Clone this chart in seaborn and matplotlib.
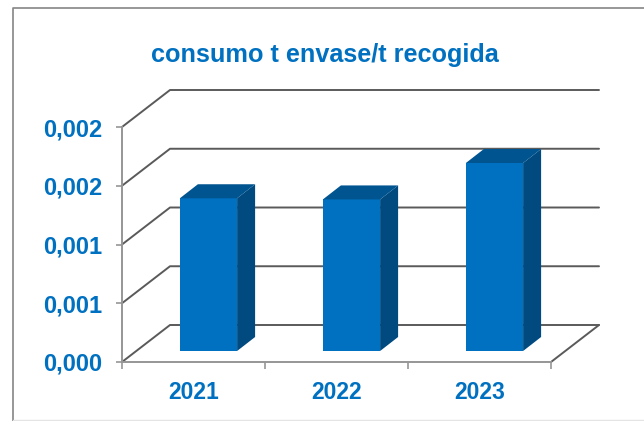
import matplotlib
matplotlib.use('Agg')
import matplotlib.pyplot as plt
import matplotlib.transforms as mtrans
from matplotlib.patches import Polygon
import pandas as pd
import seaborn as sns

# valores
years = ['2021', '2022', '2023']
consumo = [0.0013, 0.00129, 0.0016]
y_ticks = [0.0, 0.0005, 0.001, 0.0015, 0.002]
y_labels = ['0,000', '0,001', '0,001', '0,002', '0,002']

BLUE = '#0070C0'
W, H = 644, 421
# plano frontal del grafico 3D, en pixeles
LEFT, RIGHT, TOP, BOTTOM = 122, 551, 127, 362
WALL_DX, WALL_DY = 48, 37
BAR_DX, BAR_DY = 18, 14
BASE_DX, BASE_DY = 15, 11

sns.set_theme(style='white')
plt.rcParams['font.family'] = ['Liberation Sans', 'DejaVu Sans']

fig = plt.figure(figsize=(W / 100, H / 100), dpi=100)
ax = fig.add_axes([LEFT / W, 1 - BOTTOM / H, (RIGHT - LEFT) / W, (BOTTOM - TOP) / H])
ax.patch.set_alpha(0)

df = pd.DataFrame({'year': years, 'consumo': consumo})
sns.barplot(data=df, x='year', y='consumo', color=BLUE, saturation=1, width=0.4, linewidth=0, ax=ax, zorder=5)
ax.set_xlim(-0.5, 2.5)
ax.set_ylim(0, 0.002)

# pixeles a unidades de datos
px_x = 3 / (RIGHT - LEFT)
px_y = 0.002 / (BOTTOM - TOP)

# pared del fondo y suelo
for t in y_ticks:
    xs = [-0.5, -0.5 + WALL_DX * px_x, 2.5 + WALL_DX * px_x]
    ys = [t, t + WALL_DY * px_y, t + WALL_DY * px_y]
    ax.plot(xs, ys, color='#5a5a5a', lw=1.4, clip_on=False, zorder=2)
ax.plot([2.5, 2.5 + WALL_DX * px_x], [0, WALL_DY * px_y], color='#5a5a5a', lw=1.4, clip_on=False, zorder=2)

# caras 3D de cada barra
shift = mtrans.Affine2D().translate(BASE_DX, BASE_DY)
for bar in ax.patches[:len(years)]:
    x0, w, h = bar.get_x(), bar.get_width(), bar.get_height()
    x1 = x0 + w
    dx, dy = BAR_DX * px_x, BAR_DY * px_y
    bar.set_transform(ax.transData + shift)
    bar.set_clip_on(False)
    bar.set_edgecolor('none')
    side = Polygon([(x1, 0), (x1 + dx, dy), (x1 + dx, h + dy), (x1, h)], closed=True, fc='#004A80', ec='none',
                   transform=ax.transData + shift, clip_on=False, zorder=5)
    top = Polygon([(x0, h), (x0 + dx, h + dy), (x1 + dx, h + dy), (x1, h)], closed=True, fc='#005490', ec='none',
                  transform=ax.transData + shift, clip_on=False, zorder=5)
    ax.add_patch(side)
    ax.add_patch(top)

ax.set_xlabel('')
ax.set_ylabel('')
ax.set_yticks(y_ticks)
ax.set_yticklabels(y_labels)
ax.set_xticks([-0.5, 0.5, 1.5, 2.5], minor=False)
ax.set_xticklabels([])
ax.set_xticks([0, 1, 2], minor=True)
ax.set_xticklabels(years, minor=True)
ax.tick_params(axis='x', which='major', length=5, width=1.2, color='#969696', bottom=True)
ax.tick_params(axis='x', which='minor', length=0, pad=14, labelsize=16.5, labelcolor=BLUE)
ax.tick_params(axis='y', length=4, width=1.2, color='#969696', left=True, pad=10, labelsize=17, labelcolor=BLUE)
for lbl in ax.get_xticklabels(minor=True) + ax.get_yticklabels():
    lbl.set_fontweight('bold')

for name in ['top', 'right']:
    ax.spines[name].set_visible(False)
for name in ['left', 'bottom']:
    ax.spines[name].set_color('#969696')
    ax.spines[name].set_linewidth(1.4)

fig.text(324.5 / W, 1 - 55 / H, 'consumo t envase/t recogida', color=BLUE, fontsize=18.2, fontweight='bold',
         ha='center', va='center')

# marco del grafico
border = fig.add_axes([0, 0, 1, 1], zorder=-1)
border.set_xlim(0, W)
border.set_ylim(H, 0)
border.axis('off')
border.plot([13, 13, W], [H, 7.5, 7.5], color='#858585', lw=1.2)
border.plot([13, W], [420, 420], color='#e4e4e4', lw=1)

fig.savefig('out.png', dpi=100, facecolor='white')
